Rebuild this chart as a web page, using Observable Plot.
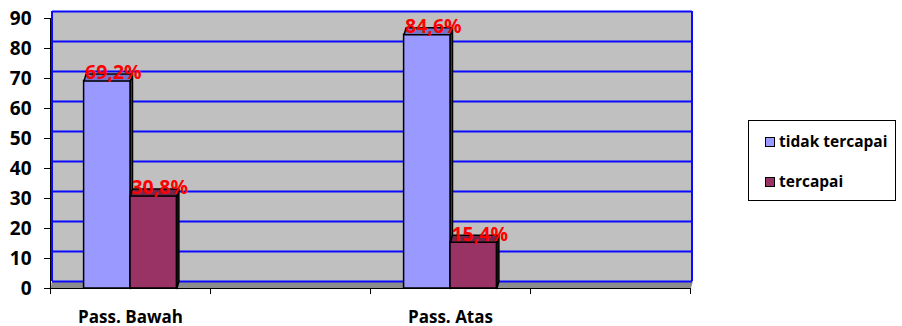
<!DOCTYPE html>
<html>
<head>
<meta charset="utf-8">
<script src="https://cdn.jsdelivr.net/npm/d3@7"></script>
<script src="https://cdn.jsdelivr.net/npm/@observablehq/plot@0.6"></script>
<style>
  html, body { margin: 0; padding: 0; background: #fff; }
  #wrap { position: relative; width: 902px; height: 326px; font-family: "Open Sans", "Noto Sans", sans-serif; }
  #chart svg { font-family: "Open Sans", "Noto Sans", sans-serif; font-weight: 700; }
  #legend { position: absolute; left: 748px; top: 120px; width: 148px; height: 81px; border: 1px solid #000; box-sizing: border-box; background: #fff; }
  .item { position: absolute; left: 16px; display: flex; align-items: center; font-weight: 700; font-size: 15.5px; color: #000; line-height: 1; }
  .sw { width: 8px; height: 8px; border: 1.5px solid #000; margin-right: 4px; }
</style>
</head>
<body>
<div id="wrap">
  <div id="chart"></div>
  <div id="legend"></div>
</div>
<script>
// ---- data ----
const categories = ["Pass. Bawah", "", "Pass. Atas", ""];
const seriesNames = ["tidak tercapai", "tercapai"];
const tidakTercapai = [69.2, null, 84.6, null];
const tercapai = [30.8, null, 15.4, null];
const yTicks = [0, 10, 20, 30, 40, 50, 60, 70, 80, 90];

// ---- styles ----
const frontColors = ["#9999ff", "#993366"];
const topColors = ["#7272c8", "#73264d"];
const sideColors = ["#6666b3", "#5c1f3d"];

const width = 740, height = 326;
const marginLeft = 50, marginRight = 50, marginTop = 18, marginBottom = 38;
const xDomain = [0, categories.length];
const yDomain = [0, d3.max(yTicks)];
const pxPerX = (width - marginLeft - marginRight) / (xDomain[1] - xDomain[0]);
const pxPerY = (height - marginTop - marginBottom) / (yDomain[1] - yDomain[0]);
const depthX = 2 / pxPerX;   // 3D depth offset, in data units
const depthY = 7 / pxPerY;
const barW = 0.29;

const seriesValues = [tidakTercapai, tercapai];
const bars = [];
seriesValues.forEach((vals, s) => vals.forEach((v, i) => {
  if (v == null) return;
  const x1 = i + 0.5 - barW + s * barW;
  bars.push({s, i, v, x1, x2: x1 + barW, cx: x1 + barW / 2, id: s + "-" + i});
}));
const topPts = bars.flatMap(b => [
  {s: b.s, id: b.id, x: b.x1, y: b.v},
  {s: b.s, id: b.id, x: b.x2, y: b.v},
  {s: b.s, id: b.id, x: b.x2 + depthX, y: b.v + depthY},
  {s: b.s, id: b.id, x: b.x1 + depthX, y: b.v + depthY}
]);
const sidePts = bars.flatMap(b => [
  {s: b.s, id: b.id, x: b.x2, y: 0},
  {s: b.s, id: b.id, x: b.x2, y: b.v},
  {s: b.s, id: b.id, x: b.x2 + depthX, y: b.v + depthY},
  {s: b.s, id: b.id, x: b.x2 + depthX, y: depthY}
]);
const floorPts = [
  {x: xDomain[0], y: 0}, {x: xDomain[1], y: 0},
  {x: xDomain[1] + depthX, y: depthY}, {x: xDomain[0] + depthX, y: depthY}
];
const fmt = v => v.toFixed(1).replace(".", ",") + "%";

const marks = [
  Plot.rect([0], {x1: xDomain[0], x2: xDomain[1], y1: yDomain[0], y2: yDomain[1], dx: 2, dy: -7, fill: "#c0c0c0"}),
  Plot.line(floorPts, {x: "x", y: "y", curve: "linear-closed", fill: "#8c8c8c", stroke: "#707070", strokeWidth: 0.5}),
  Plot.ruleY(yTicks, {x1: xDomain[0], x2: xDomain[1], dx: 2, dy: -7, stroke: "#0a0aff", strokeWidth: 2}),
  Plot.ruleX(xDomain, {y1: yDomain[0], y2: yDomain[1], dx: 1.5, dy: -7, stroke: "#0a0aff", strokeWidth: 2}),
  Plot.ruleY([0], {x1: xDomain[0], x2: xDomain[1], stroke: "#000", strokeWidth: 1.2}),
  Plot.ruleX([0], {y1: yDomain[0], y2: yDomain[1], stroke: "#000", strokeWidth: 1}),
  Plot.axisY({ticks: yTicks, tickSize: 6, tickPadding: 13, fontSize: 19, fontWeight: "bold", stroke: "#000", fill: "#000"}),
  Plot.axisX({ticks: d3.range(xDomain[0], xDomain[1] + 1), tickSize: 6, tickFormat: () => "", stroke: "#000"}),
  Plot.axisX({ticks: categories.map((c, i) => i + 0.5), tickSize: 0, tickPadding: 22, fontSize: 17, fontWeight: "bold", fill: "#000",
    tickFormat: d => categories[Math.floor(d)]})
];
seriesValues.forEach((vals, s) => {
  const bs = bars.filter(b => b.s === s);
  marks.push(
    Plot.line(sidePts.filter(p => p.s === s), {x: "x", y: "y", z: "id", curve: "linear-closed", fill: sideColors[s], stroke: "#000", strokeWidth: 1.5}),
    Plot.rect(bs, {x1: "x1", x2: "x2", y1: 0, y2: "v", fill: frontColors[s], stroke: "#000", strokeWidth: 1.5}),
    Plot.line(topPts.filter(p => p.s === s), {x: "x", y: "y", z: "id", curve: "linear-closed", fill: topColors[s], stroke: "#000", strokeWidth: 1.5})
  );
});
marks.push(Plot.text(bars, {x: "cx", y: "v", text: d => fmt(d.v), dx: 6, dy: -8, fill: "#ff0000", fontSize: 19.5, fontWeight: "bold", textAnchor: "middle", lineAnchor: "middle"}));

const chart = Plot.plot({
  width, height, marginLeft, marginRight, marginTop, marginBottom,
  x: {type: "linear", domain: xDomain, axis: null},
  y: {type: "linear", domain: yDomain, axis: null},
  style: {background: "#fff", overflow: "visible"},
  marks
});
document.getElementById("chart").appendChild(chart);

const legend = document.getElementById("legend");
seriesNames.forEach((name, s) => {
  const it = document.createElement("div");
  it.className = "item";
  it.style.top = (s === 0 ? 13 : 53) + "px";
  const sw = document.createElement("span");
  sw.className = "sw";
  sw.style.background = frontColors[s];
  const tx = document.createElement("span");
  tx.textContent = name;
  it.appendChild(sw); it.appendChild(tx);
  legend.appendChild(it);
});
</script>
</body>
</html>
